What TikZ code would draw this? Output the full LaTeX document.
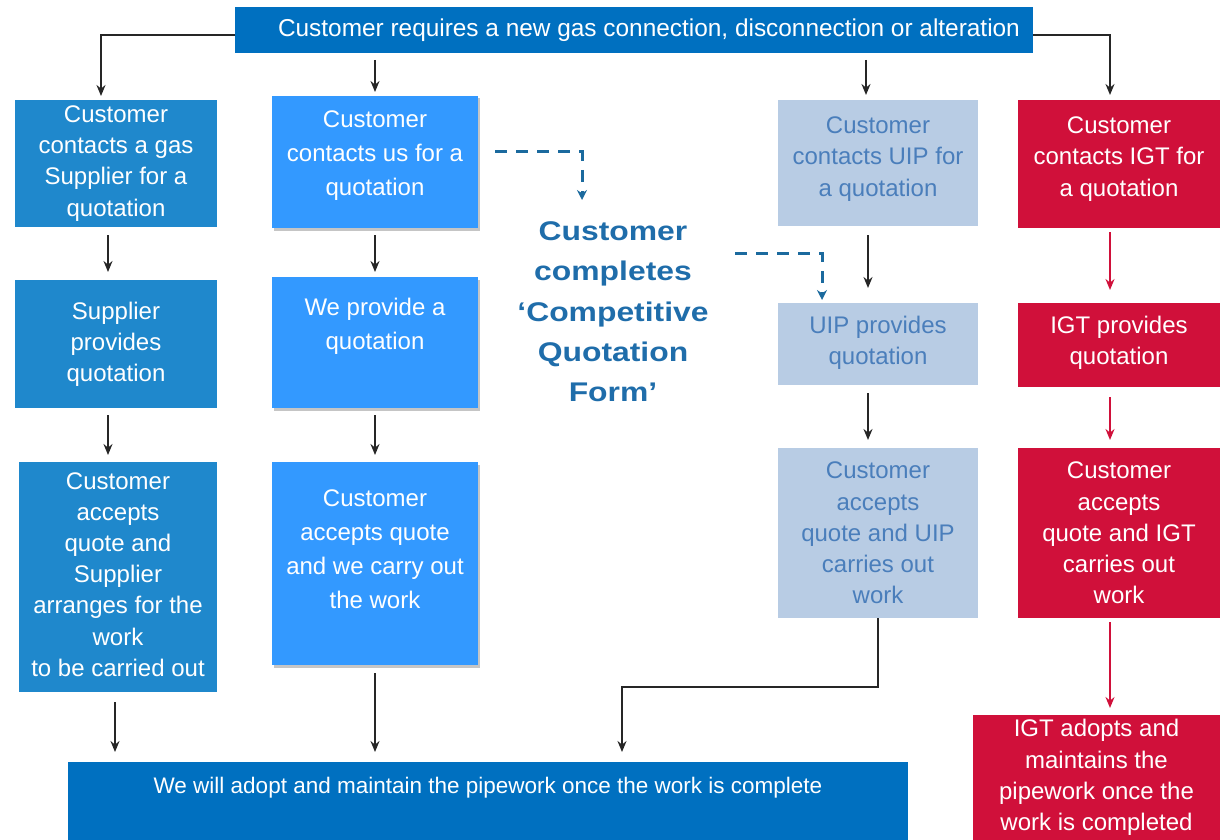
\documentclass[tikz,border=0pt]{standalone}
\usepackage{fontspec}
\setmainfont{Liberation Sans}
\newfontfamily\widesans[FakeStretch=1.18]{Liberation Sans}
\usetikzlibrary{arrows.meta,calc,shadows}
\definecolor{topblue}{HTML}{0070C0}
\definecolor{supblue}{HTML}{1F88CC}
\definecolor{usblue}{HTML}{3399FF}
\definecolor{uipfill}{HTML}{B8CCE4}
\definecolor{uiptext}{HTML}{4A7EBB}
\definecolor{igtred}{HTML}{D0103A}
\definecolor{formblue}{HTML}{1F6DAA}
\definecolor{dashblue}{HTML}{1B6A9E}
\begin{document}
\begin{tikzpicture}[x=1pt,y=-1pt,
  box/.style={rectangle, inner sep=0pt, outer sep=0pt},
  topbox/.style={box, fill=topblue},
  supbox/.style={box, fill=supblue, minimum width=202pt},
  usbox/.style={box, fill=usblue, minimum width=206pt,
    drop shadow={shadow xshift=2pt, shadow yshift=-2.5pt, fill=black!45, opacity=.5}},
  uipbox/.style={box, fill=uipfill, minimum width=200pt},
  igtbox/.style={box, fill=igtred, minimum width=202pt},
  wtxt/.style={text=white, align=center, font=\fontsize{24}{31.2}\selectfont},
  ustxt/.style={text=white, align=center, font=\fontsize{24}{34}\selectfont},
  uiptxt/.style={text=uiptext, align=center, font=\fontsize{24}{31.2}\selectfont},
  formtxt/.style={text=formblue, align=center, font=\widesans\bfseries\fontsize{27}{40.3}\selectfont},
  arr/.style={draw=black!85, line width=1.7pt, -{Stealth[length=11pt,width=9pt]}},
  redarr/.style={draw=igtred, line width=1.7pt, -{Stealth[length=11pt,width=9pt]}},
  dasharr/.style={draw=dashblue, line width=3pt, dash pattern=on 12pt off 9pt,
    -{Stealth[length=10pt,width=10pt]}}
]
\useasboundingbox (0,0) rectangle (1221,840);

% top box
\node[topbox, minimum width=798pt, minimum height=46pt,
  label={[wtxt, font=\fontsize{24.4}{30}\selectfont, xshift=15pt]center:{Customer requires a new gas connection, disconnection or alteration}}]
  (top) at (634,30) {};

% column 1: gas supplier
\node[supbox, minimum height=127pt,
  label={[wtxt]center:{Customer\\contacts a gas\\Supplier for a\\quotation}}] (c1a) at (116,163.5) {};
\node[supbox, minimum height=128pt,
  label={[wtxt]center:{Supplier\\provides\\quotation}}] (c1b) at (116,344) {};
\node[supbox, minimum width=198pt, minimum height=230pt,
  label={[wtxt, yshift=2.5pt]center:{Customer\\accepts\\quote and\\Supplier\\arranges for the\\work\\to be carried out}}] (c1c) at (118,577) {};

% column 2: us
\node[usbox, minimum height=132pt,
  label={[ustxt, yshift=6pt]center:{Customer\\contacts us for a\\quotation}}] (c2a) at (375,162) {};
\node[usbox, minimum height=131pt,
  label={[ustxt, yshift=16pt]center:{We provide a\\quotation}}] (c2b) at (375,342.5) {};
\node[usbox, minimum height=203pt,
  label={[ustxt, yshift=14.5pt]center:{Customer\\accepts quote\\and we carry out\\the work}}] (c2c) at (375,563.5) {};

% middle text
\node[formtxt] (mid) at (613,312) {Customer\\completes\\‘Competitive\\Quotation\\Form’};

% column 3: UIP
\node[uipbox, minimum height=126pt,
  label={[uiptxt, yshift=4pt]center:{Customer\\contacts UIP for\\a quotation}}] (c3a) at (878,163) {};
\node[uipbox, minimum height=82pt,
  label={[uiptxt, yshift=1.5pt]center:{UIP provides\\quotation}}] (c3b) at (878,344) {};
\node[uipbox, minimum height=170pt,
  label={[uiptxt]center:{Customer\\accepts\\quote and UIP\\carries out\\work}}] (c3c) at (878,533) {};

% column 4: IGT
\node[igtbox, minimum height=128pt,
  label={[wtxt, yshift=5pt]center:{Customer\\contacts IGT for\\a quotation}}] (c4a) at (1119,164) {};
\node[igtbox, minimum height=84pt,
  label={[wtxt, yshift=2.5pt]center:{IGT provides\\quotation}}] (c4b) at (1119,345) {};
\node[igtbox, minimum height=170pt,
  label={[wtxt]center:{Customer\\accepts\\quote and IGT\\carries out\\work}}] (c4c) at (1119,533) {};
\node[igtbox, minimum width=247pt, minimum height=125pt,
  label={[wtxt]center:{IGT adopts and\\maintains the\\pipework once the\\work is completed}}] (c4d) at (1096.5,777.5) {};

% bottom box
\node[topbox, minimum width=840pt, minimum height=78pt,
  label={[text=white, font=\fontsize{22.5}{28}\selectfont, yshift=13pt]center:{We will adopt and maintain the pipework once the work is complete}}]
  (bot) at (488,801) {};

% entry coordinates
\coordinate (c1in) at ($(c1a.north)+(-15,0)$);
\coordinate (c1x) at ($(c1a.south)+(-8,0)$);
\coordinate (c1y) at ($(c1b.south)+(-8,0)$);
\coordinate (c1z) at ($(c1c.south)+(-3,0)$);
\coordinate (c3in) at ($(c3a.north)+(-12,0)$);
\coordinate (c3x) at ($(c3a.south)+(-10,0)$);
\coordinate (c3y) at ($(c3b.south)+(-10,0)$);
\coordinate (c3j) at ($(c3c.south)+(0,69)$);
\coordinate (botin) at ($(bot.north)+(134,0)$);
\coordinate (c4in) at ($(c4a.north)+(-9,0)$);
\coordinate (c4x) at ($(c4a.south)+(-9,0)$);
\coordinate (c4y) at ($(c4b.south)+(-9,0)$);
\coordinate (c4z) at ($(c4c.south)+(-9,0)$);

% top connectors
\draw[arr, shorten >=4pt] ($(top.west)+(0,5)$) -| (c1in);
\draw[arr, shorten <=7pt, shorten >=4pt] (c2a.north |- top.south) -- (c2a.north);
\draw[arr, shorten <=7pt, shorten >=5pt] (c3in |- top.south) -- (c3in);
\draw[arr, shorten >=5pt] ($(top.east)+(0,5)$) -| (c4in);

% column 1
\draw[arr, shorten <=8pt, shorten >=8pt] (c1x) -- (c1x |- c1b.north);
\draw[arr, shorten <=7pt, shorten >=7pt] (c1y) -- (c1y |- c1c.north);
\draw[arr, shorten <=10pt, shorten >=10pt] (c1z) -- (c1z |- bot.north);

% column 2
\draw[arr, shorten <=7pt, shorten >=5pt] (c2a.south) -- (c2b.north);
\draw[arr, shorten <=7pt, shorten >=7pt] (c2b.south) -- (c2c.north);
\draw[arr, shorten <=8pt, shorten >=10pt] (c2c.south) -- (c2c.south |- bot.north);

% column 3
\draw[arr, shorten <=9pt, shorten >=15pt] (c3x) -- (c3x |- c3b.north);
\draw[arr, shorten <=8pt, shorten >=8pt] (c3y) -- (c3y |- c3c.north);
\draw[arr, shorten >=10pt] (c3c.south) -- (c3j) -| (botin);

% column 4
\draw[redarr, shorten <=4pt, shorten >=13pt] (c4x) -- (c4x |- c4b.north);
\draw[redarr, shorten <=10pt, shorten >=8pt] (c4y) -- (c4y |- c4c.north);
\draw[redarr, shorten <=4pt, shorten >=7pt] (c4z) -- (c4z |- c4d.north);

% dashed connectors
\coordinate (d1s) at ($(c2a.east)+(17,-10)$);
\coordinate (d1e) at (582,200);
\draw[dasharr] (d1s) -| (d1e);
\coordinate (d2s) at (735,253);
\coordinate (d2e) at ($(c3b.north)+(-56,-3)$);
\draw[dasharr] (d2s) -| (d2e);
\end{tikzpicture}
\end{document}
